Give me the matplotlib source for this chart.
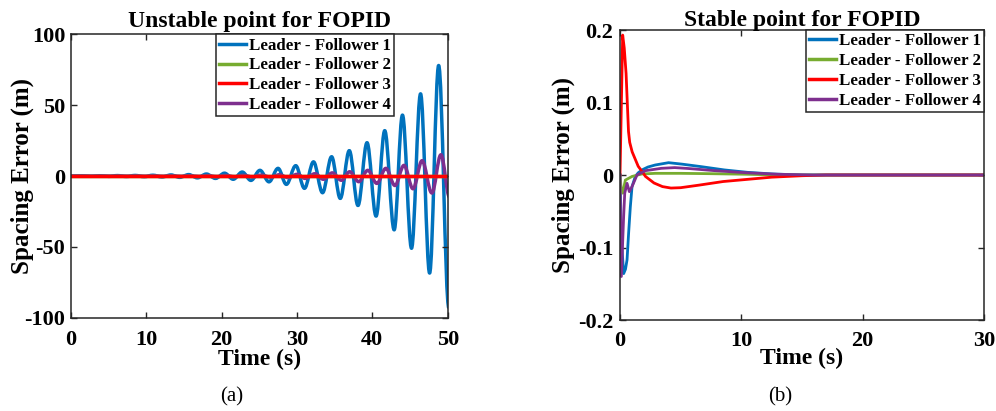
import matplotlib
matplotlib.use("Agg")
import matplotlib.pyplot as plt
from matplotlib.path import Path
from matplotlib.patches import PathPatch
from matplotlib.lines import Line2D

plt.rcParams['font.family'] = ['Liberation Serif', 'DejaVu Serif']
plt.rcParams['font.weight'] = 'bold'
plt.rcParams['axes.unicode_minus'] = False

# ---------------- data ----------------
labels = ['Leader - Follower 1', 'Leader - Follower 2',
          'Leader - Follower 3', 'Leader - Follower 4']
colors = ['#0072BD', '#77AC30', '#FF0000', '#7E2F8E']

# (a) unstable: extrema of the oscillations (time s, error m)
a_f1_t = [0, 1.5, 2.7, 3.85, 5.05, 6.2, 7.4, 8.55, 9.75, 10.9, 12.1, 13.3, 14.45,
          15.65, 16.8, 18.0, 19.2, 20.4, 21.55, 22.75, 23.9, 25.1, 26.3, 27.5,
          28.6, 29.85, 31.0, 32.2, 33.4, 34.6, 35.75, 36.95, 38.1, 39.3, 40.5,
          41.65, 42.9, 44.0, 45.2, 46.4, 47.6, 48.8, 50.15]
a_f1_v = [0, 0.15, -0.2, 0.2, -0.25, 0.3, -0.35, 0.4, -0.5, 0.55, -0.7, 0.75, -0.95,
          1.0, -1.3, 1.4, -1.7, 2.0, -2.3, 2.8, -3.1, 4.0, -4.1, 5.4,
          -5.9, 7.3, -8.7, 10.0, -11.8, 13.6, -15.8, 17.9, -20.8, 23.5, -28.3,
          32.0, -38.0, 43.0, -51.0, 58.0, -68.5, 78.0, -93.0]

a_f4_t = [0, 1.7, 2.9, 4.05, 5.25, 6.4, 7.6, 8.75, 9.95, 11.1, 12.3, 13.45, 14.65,
          15.85, 17.0, 18.2, 19.4, 20.6, 21.75, 22.95, 24.1, 25.3, 26.5, 27.7,
          28.8, 30.05, 31.1, 32.4, 33.5, 34.7, 35.9, 37.0, 38.2, 39.4, 40.6,
          41.8, 43.0, 44.2, 45.4, 46.6, 47.9, 49.1, 50.25]
a_f4_v = [0, 0.04, -0.05, 0.05, -0.06, 0.06, -0.08, 0.08, -0.1, 0.11, -0.13, 0.15,
          -0.18, 0.2, -0.25, 0.28, -0.35, 0.38, -0.45, 0.5, -0.6, 0.65, -0.8, 0.9,
          -1.1, 1.2, -1.7, 1.6, -2.3, 2.2, -3.0, 3.0, -4.0, 4.0, -5.2,
          5.4, -6.7, 7.5, -9.0, 10.8, -12.0, 15.0, -15.0]

a_f2_t = [0, 50]
a_f2_v = [0, 0]
a_f3_t = [0, 50]
a_f3_v = [0, 0]

# (b) stable
b_f1_t = [0, 0.12, 0.3, 0.45, 0.58, 0.71, 0.85, 0.99, 1.26, 1.5, 1.81, 2.3, 2.9, 4.0,
          5.1, 6.7, 8.6, 10.5, 12.5, 15, 30]
b_f1_v = [0, -0.09, -0.136, -0.13, -0.117, -0.08, -0.044, -0.016, -0.002, 0.003,
          0.007, 0.011, 0.0138, 0.017, 0.015, 0.0115, 0.007, 0.0037, 0.0015, 0.0, 0.0]

b_f2_t = [0, 0.1, 0.22, 0.44, 0.99, 1.8, 2.9, 5.0, 7.5, 10.5, 13, 30]
b_f2_v = [0, -0.02, -0.025, -0.007, -0.002, 0.0014, 0.0023, 0.0023, 0.0018, 0.001,
          0.0, 0.0]

b_f3_t = [0, 0.22, 0.35, 0.5, 0.6, 0.7, 0.8, 1.0, 1.2, 1.5, 1.9, 2.1, 2.8, 3.5,
          4.2, 5.0, 6.5, 8.5, 10.5, 12.5, 15, 17, 30]
b_f3_v = [0, 0.193, 0.175, 0.14, 0.10, 0.06, 0.045, 0.032, 0.024, 0.012, 0.003,
          -0.002, -0.011, -0.016, -0.018, -0.0175, -0.014, -0.009, -0.006, -0.003,
          -0.001, 0.0, 0.0]

b_f4_t = [0, 0.11, 0.3, 0.39, 0.58, 0.77, 0.99, 1.4, 2.1, 3.4, 4.5, 5.6, 7.8, 10.5,
          13, 16, 30]
b_f4_v = [0, -0.14, -0.057, -0.025, -0.0115, -0.023, -0.016, 0.0, 0.006, 0.0092,
          0.0102, 0.009, 0.006, 0.003, 0.001, 0.0, 0.0]


def wave_path(t, v):
    # smooth curve through the extrema, flat tangent at each one
    verts = [(t[0], v[0])]
    codes = [Path.MOVETO]
    for i in range(len(t) - 1):
        d = (t[i + 1] - t[i]) * 0.36
        verts += [(t[i] + d, v[i]), (t[i + 1] - d, v[i + 1]), (t[i + 1], v[i + 1])]
        codes += [Path.CURVE4] * 3
    return Path(verts, codes)


def style_axes(ax, xpad, ypad):
    for s in ax.spines.values():
        s.set_linewidth(1.1)
        s.set_color('#262626')
    ax.tick_params(direction='in', length=4, width=1.0, top=True, right=True,
                   labelsize=16, colors='#262626', labelcolor='black')
    ax.tick_params(axis='x', pad=xpad)
    ax.tick_params(axis='y', pad=ypad)


fig = plt.figure(figsize=(9.96, 4.11), dpi=100)
ax1 = fig.add_axes([0.071, 0.227, 0.3785, 0.6895])
ax2 = fig.add_axes([0.6225, 0.2214, 0.3655, 0.7056])

# ---- (a)
lw_a = 2.5
ax1.add_patch(PathPatch(wave_path(a_f1_t, a_f1_v), fill=False, edgecolor=colors[0],
                        lw=lw_a, joinstyle='round'))
ax1.plot(a_f2_t, a_f2_v, color=colors[1], lw=lw_a)
ax1.plot(a_f3_t, a_f3_v, color=colors[2], lw=lw_a)
ax1.add_patch(PathPatch(wave_path(a_f4_t, a_f4_v), fill=False, edgecolor=colors[3],
                        lw=lw_a, joinstyle='round'))
ax1.set_xlim(0, 50)
ax1.set_ylim(-100, 100)
ax1.set_xticks([0, 10, 20, 30, 40, 50])
ax1.set_yticks([-100, -50, 0, 50, 100])
style_axes(ax1, 9, 4)
ax1.set_title('Unstable point for FOPID', fontsize=17, fontweight='bold', pad=5)
ax1.set_xlabel('Time (s)', fontsize=17, fontweight='bold', labelpad=-1)
ax1.set_ylabel('Spacing Error (m)', fontsize=18, fontweight='bold', labelpad=-7)
handles = [Line2D([], [], color=c, lw=lw_a) for c in colors]
leg1 = ax1.legend(handles, labels, loc='upper right', bbox_to_anchor=(0.858, 1.0),
                  fontsize=12.2, handlelength=1.6, handletextpad=0.15,
                  labelspacing=0.22, borderpad=0.2, borderaxespad=0, fancybox=False,
                  framealpha=1, edgecolor='#262626')
leg1.get_frame().set_linewidth(1.1)

# ---- (b)
lw_b = 2.0
ax2.plot(b_f1_t, b_f1_v, color=colors[0], lw=lw_b)
ax2.plot(b_f2_t, b_f2_v, color=colors[1], lw=lw_b)
ax2.plot(b_f3_t, b_f3_v, color=colors[2], lw=lw_b)
ax2.plot(b_f4_t, b_f4_v, color=colors[3], lw=lw_b)
ax2.set_xlim(0, 30)
ax2.set_ylim(-0.2, 0.2)
ax2.set_xticks([0, 10, 20, 30])
ax2.set_yticks([-0.2, -0.1, 0, 0.1, 0.2])
ax2.set_yticklabels(['-0.2', '-0.1', '0', '0.1', '0.2'])
style_axes(ax2, 8, 5)
ax2.set_title('Stable point for FOPID', fontsize=17, fontweight='bold', pad=3)
ax2.set_xlabel('Time (s)', fontsize=17, fontweight='bold', labelpad=-2)
ax2.set_ylabel('Spacing Error (m)', fontsize=18, fontweight='bold', labelpad=2)
handles = [Line2D([], [], color=c, lw=lw_a) for c in colors]
leg2 = ax2.legend(handles, labels, loc='upper right', fontsize=12.2, handlelength=1.6,
                  handletextpad=0.15, labelspacing=0.22, borderpad=0.2,
                  borderaxespad=0, fancybox=False, framealpha=1, edgecolor='#262626')
leg2.get_frame().set_linewidth(1.1)

fig.text(0.2327, 0.034, '(a)', fontsize=15, fontweight='normal', ha='center', va='center')
fig.text(0.783, 0.034, '(b)', fontsize=15, fontweight='normal', ha='center', va='center')

fig.savefig('out.png', dpi=100)
